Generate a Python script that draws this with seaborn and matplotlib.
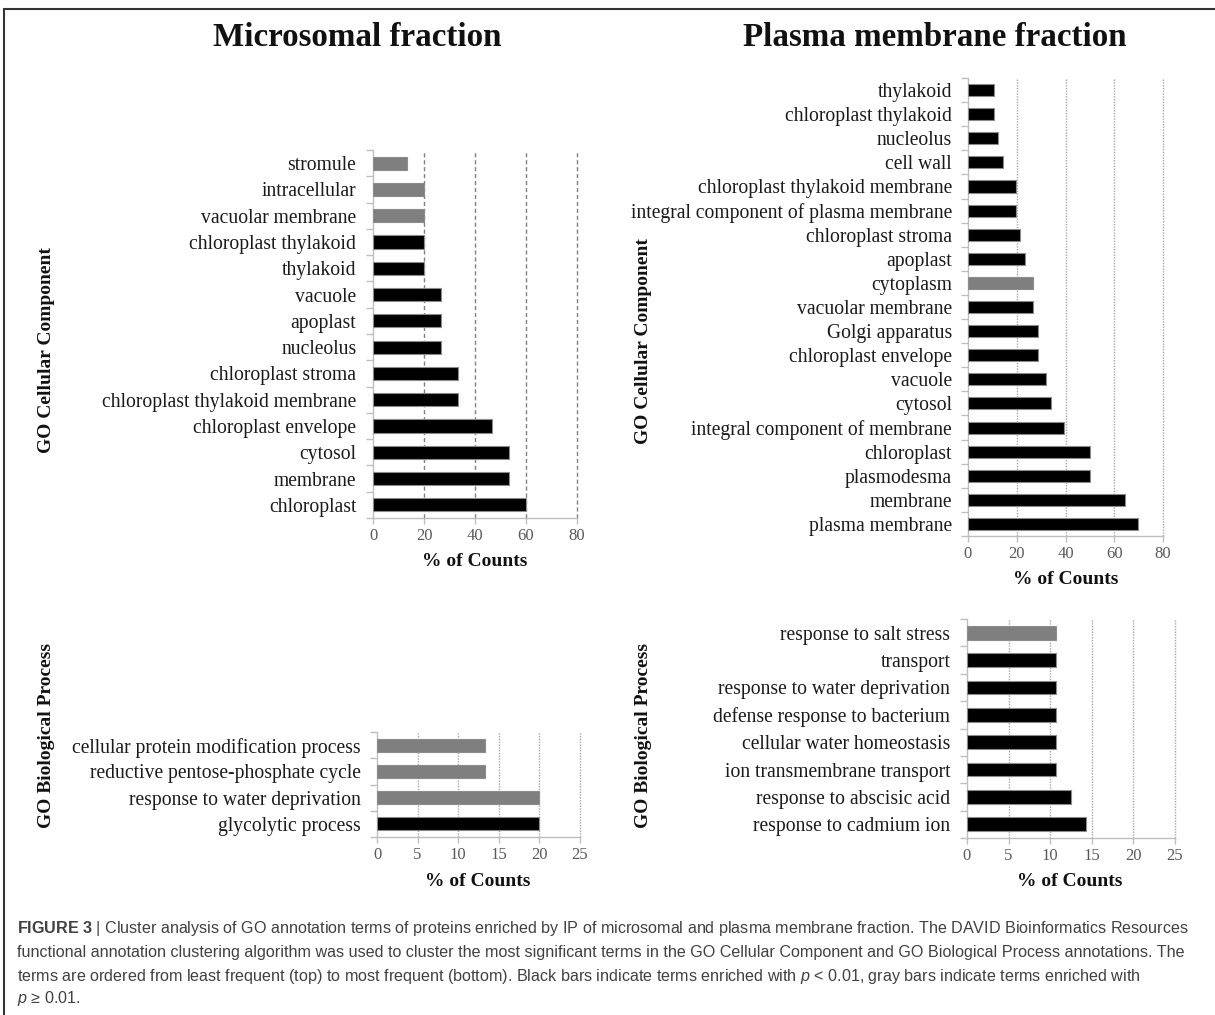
import numpy as np
import pandas as pd
import matplotlib
matplotlib.use("Agg")
import matplotlib.pyplot as plt
from matplotlib.lines import Line2D
import seaborn as sns

# ---- data -------------------------------------------------------------
mic_cc_terms = ["stromule", "intracellular", "vacuolar membrane", "chloroplast thylakoid",
                "thylakoid", "vacuole", "apoplast", "nucleolus", "chloroplast stroma",
                "chloroplast thylakoid membrane", "chloroplast envelope", "cytosol",
                "membrane", "chloroplast"]
mic_cc_pct = [13.3, 20.0, 20.0, 20.0, 20.0, 26.7, 26.7, 26.7, 33.3, 33.3, 46.7, 53.3, 53.3, 60.0]
mic_cc_sig = [0, 0, 0, 1, 1, 1, 1, 1, 1, 1, 1, 1, 1, 1]

pm_cc_terms = ["thylakoid", "chloroplast thylakoid", "nucleolus", "cell wall",
               "chloroplast thylakoid membrane", "integral component of plasma membrane",
               "chloroplast stroma", "apoplast", "cytoplasm", "vacuolar membrane",
               "Golgi apparatus", "chloroplast envelope", "vacuole", "cytosol",
               "integral component of membrane", "chloroplast", "plasmodesma",
               "membrane", "plasma membrane"]
pm_cc_pct = [10.7, 10.7, 12.5, 14.3, 19.6, 19.6, 21.4, 23.2, 26.8, 26.8, 28.6, 28.6,
             32.1, 33.9, 39.3, 50.0, 50.0, 64.3, 69.6]
pm_cc_sig = [1, 1, 1, 1, 1, 1, 1, 1, 0, 1, 1, 1, 1, 1, 1, 1, 1, 1, 1]

mic_bp_terms = ["cellular protein modification process", "reductive pentose-phosphate cycle",
                "response to water deprivation", "glycolytic process"]
mic_bp_pct = [13.3, 13.3, 20.0, 20.0]
mic_bp_sig = [0, 0, 0, 1]

pm_bp_terms = ["response to salt stress", "transport", "response to water deprivation",
               "defense response to bacterium", "cellular water homeostasis",
               "ion transmembrane transport", "response to abscisic acid",
               "response to cadmium ion"]
pm_bp_pct = [10.7, 10.7, 10.7, 10.7, 10.7, 10.7, 12.5, 14.3]
pm_bp_sig = [0, 1, 1, 1, 1, 1, 1, 1]

cc_ticks = [0, 20, 40, 60, 80]
bp_ticks = [0, 5, 10, 15, 20, 25]

# ---- style ------------------------------------------------------------
sns.set_theme(style="white")
SERIF = ["Liberation Serif", "DejaVu Serif"]
SANS = ["Liberation Sans", "DejaVu Sans"]
plt.rcParams["font.family"] = SERIF
plt.rcParams["mathtext.fontset"] = "custom"
plt.rcParams["mathtext.it"] = "Liberation Sans:italic"
plt.rcParams["mathtext.bf"] = "Liberation Sans:bold"
plt.rcParams["mathtext.rm"] = "Liberation Sans"

W, H = 1215, 1015
fig = plt.figure(figsize=(W / 100, H / 100), dpi=100)
fig.patch.set_facecolor("white")

palette = {"p < 0.01": "#000000", "p ≥ 0.01": "#7f7f7f"}


def rect(x0, x1, ytop, ybot):
    return [x0 / W, 1 - ybot / H, (x1 - x0) / W, (ybot - ytop) / H]


def panel(box, terms, pct, sig, ticks, grid_style, grid_color, label_pad):
    ax = fig.add_axes(box)
    df = pd.DataFrame({"term": terms, "pct": pct,
                       "class": ["p < 0.01" if s else "p ≥ 0.01" for s in sig]})
    sns.barplot(data=df, x="pct", y="term", hue="class", palette=palette,
                dodge=False, width=0.5, legend=False, ax=ax,
                edgecolor="#8c8c8c", linewidth=0.8, zorder=3)
    n = len(terms)
    ax.set_xlim(ticks[0], ticks[-1])
    ax.set_ylim(n - 0.5, -0.5)
    ax.set_xticks(ticks)
    ax.set_xticklabels([str(t) for t in ticks])
    ax.set_xlabel("")
    ax.set_ylabel("")
    for t in ticks[1:]:
        ax.axvline(t, color=grid_color, linestyle=grid_style, linewidth=1.0,
                   zorder=1, clip_on=False)
    for s in ["top", "right"]:
        ax.spines[s].set_visible(False)
    for s in ["left", "bottom"]:
        ax.spines[s].set_color("#bfbfbf")
        ax.spines[s].set_linewidth(1.0)
    ax.set_yticks(np.arange(-0.5, n, 1.0), minor=True)
    ax.tick_params(axis="y", which="major", length=0, pad=label_pad,
                   labelsize=14.1, labelcolor="#1a1a1a")
    ax.tick_params(axis="y", which="minor", length=5, width=1.0, color="#bfbfbf",
                   direction="out", left=True)
    ax.tick_params(axis="x", which="major", length=4, width=1.0, color="#bfbfbf",
                   direction="out", bottom=True, labelsize=12, labelcolor="#595959", pad=3)
    ax.set_facecolor("white")
    return ax


panel(rect(373, 577, 150, 518), mic_cc_terms, mic_cc_pct, mic_cc_sig, cc_ticks,
      (0, (3, 2)), "#808080", 12)
panel(rect(968, 1163, 78, 536), pm_cc_terms, pm_cc_pct, pm_cc_sig, cc_ticks,
      (0, (1, 1)), "#a6a6a6", 11.5)
panel(rect(377, 580, 732, 837), mic_bp_terms, mic_bp_pct, mic_bp_sig, bp_ticks,
      (0, (1, 1)), "#a6a6a6", 11.5)
panel(rect(967, 1175, 619, 838), pm_bp_terms, pm_bp_pct, pm_bp_sig, bp_ticks,
      (0, (1, 1)), "#a6a6a6", 12)


def ftext(x, y, s, **kw):
    return fig.text(x / W, 1 - y / H, s, **kw)


# panel titles
ftext(357, 37, "Microsomal fraction", ha="center", va="center",
      fontsize=23.8, fontweight="bold", color="#111111")
ftext(935, 37, "Plasma membrane fraction", ha="center", va="center",
      fontsize=23.8, fontweight="bold", color="#111111")

# axis titles
lab = dict(ha="center", va="center", fontsize=14, fontweight="bold", color="#111111")
ftext(47, 350, "GO Cellular Component", rotation=90, **lab)
ftext(643, 341, "GO Cellular Component", rotation=90, **lab)
ftext(47, 735, "GO Biological Process", rotation=90, **lab)
ftext(644, 735, "GO Biological Process", rotation=90, **lab)
ftext(475, 562, "% of Counts", **lab)
ftext(1066, 580, "% of Counts", **lab)
ftext(478, 882, "% of Counts", **lab)
ftext(1070, 882, "% of Counts", **lab)

# caption
cap = dict(ha="left", va="center", fontsize=11.6, color="#404040", family=SANS)
ftext(17, 929, r"$\mathbf{FIGURE\ 3}$ | Cluster analysis of GO annotation terms of proteins "
      "enriched by IP of microsomal and plasma membrane fraction. The DAVID Bioinformatics Resources",
      **cap)
ftext(17, 952, "functional annotation clustering algorithm was used to cluster the most significant "
      "terms in the GO Cellular Component and GO Biological Process annotations. The", **cap)
ftext(17, 976, "terms are ordered from least frequent (top) to most frequent (bottom). Black bars "
      "indicate terms enriched with $p$ < 0.01, gray bars indicate terms enriched with", **cap)
ftext(17, 998, "$p$ ≥ 0.01.", **cap)

# frame lines along the top and left edges
fig.add_artist(Line2D([4 / W, 1.0], [1 - 9 / H, 1 - 9 / H], color="#333333", linewidth=1.5))
fig.add_artist(Line2D([4 / W, 4 / W], [0.0, 1 - 9 / H], color="#333333", linewidth=1.5))

fig.savefig("out.png", dpi=100, facecolor="white")
